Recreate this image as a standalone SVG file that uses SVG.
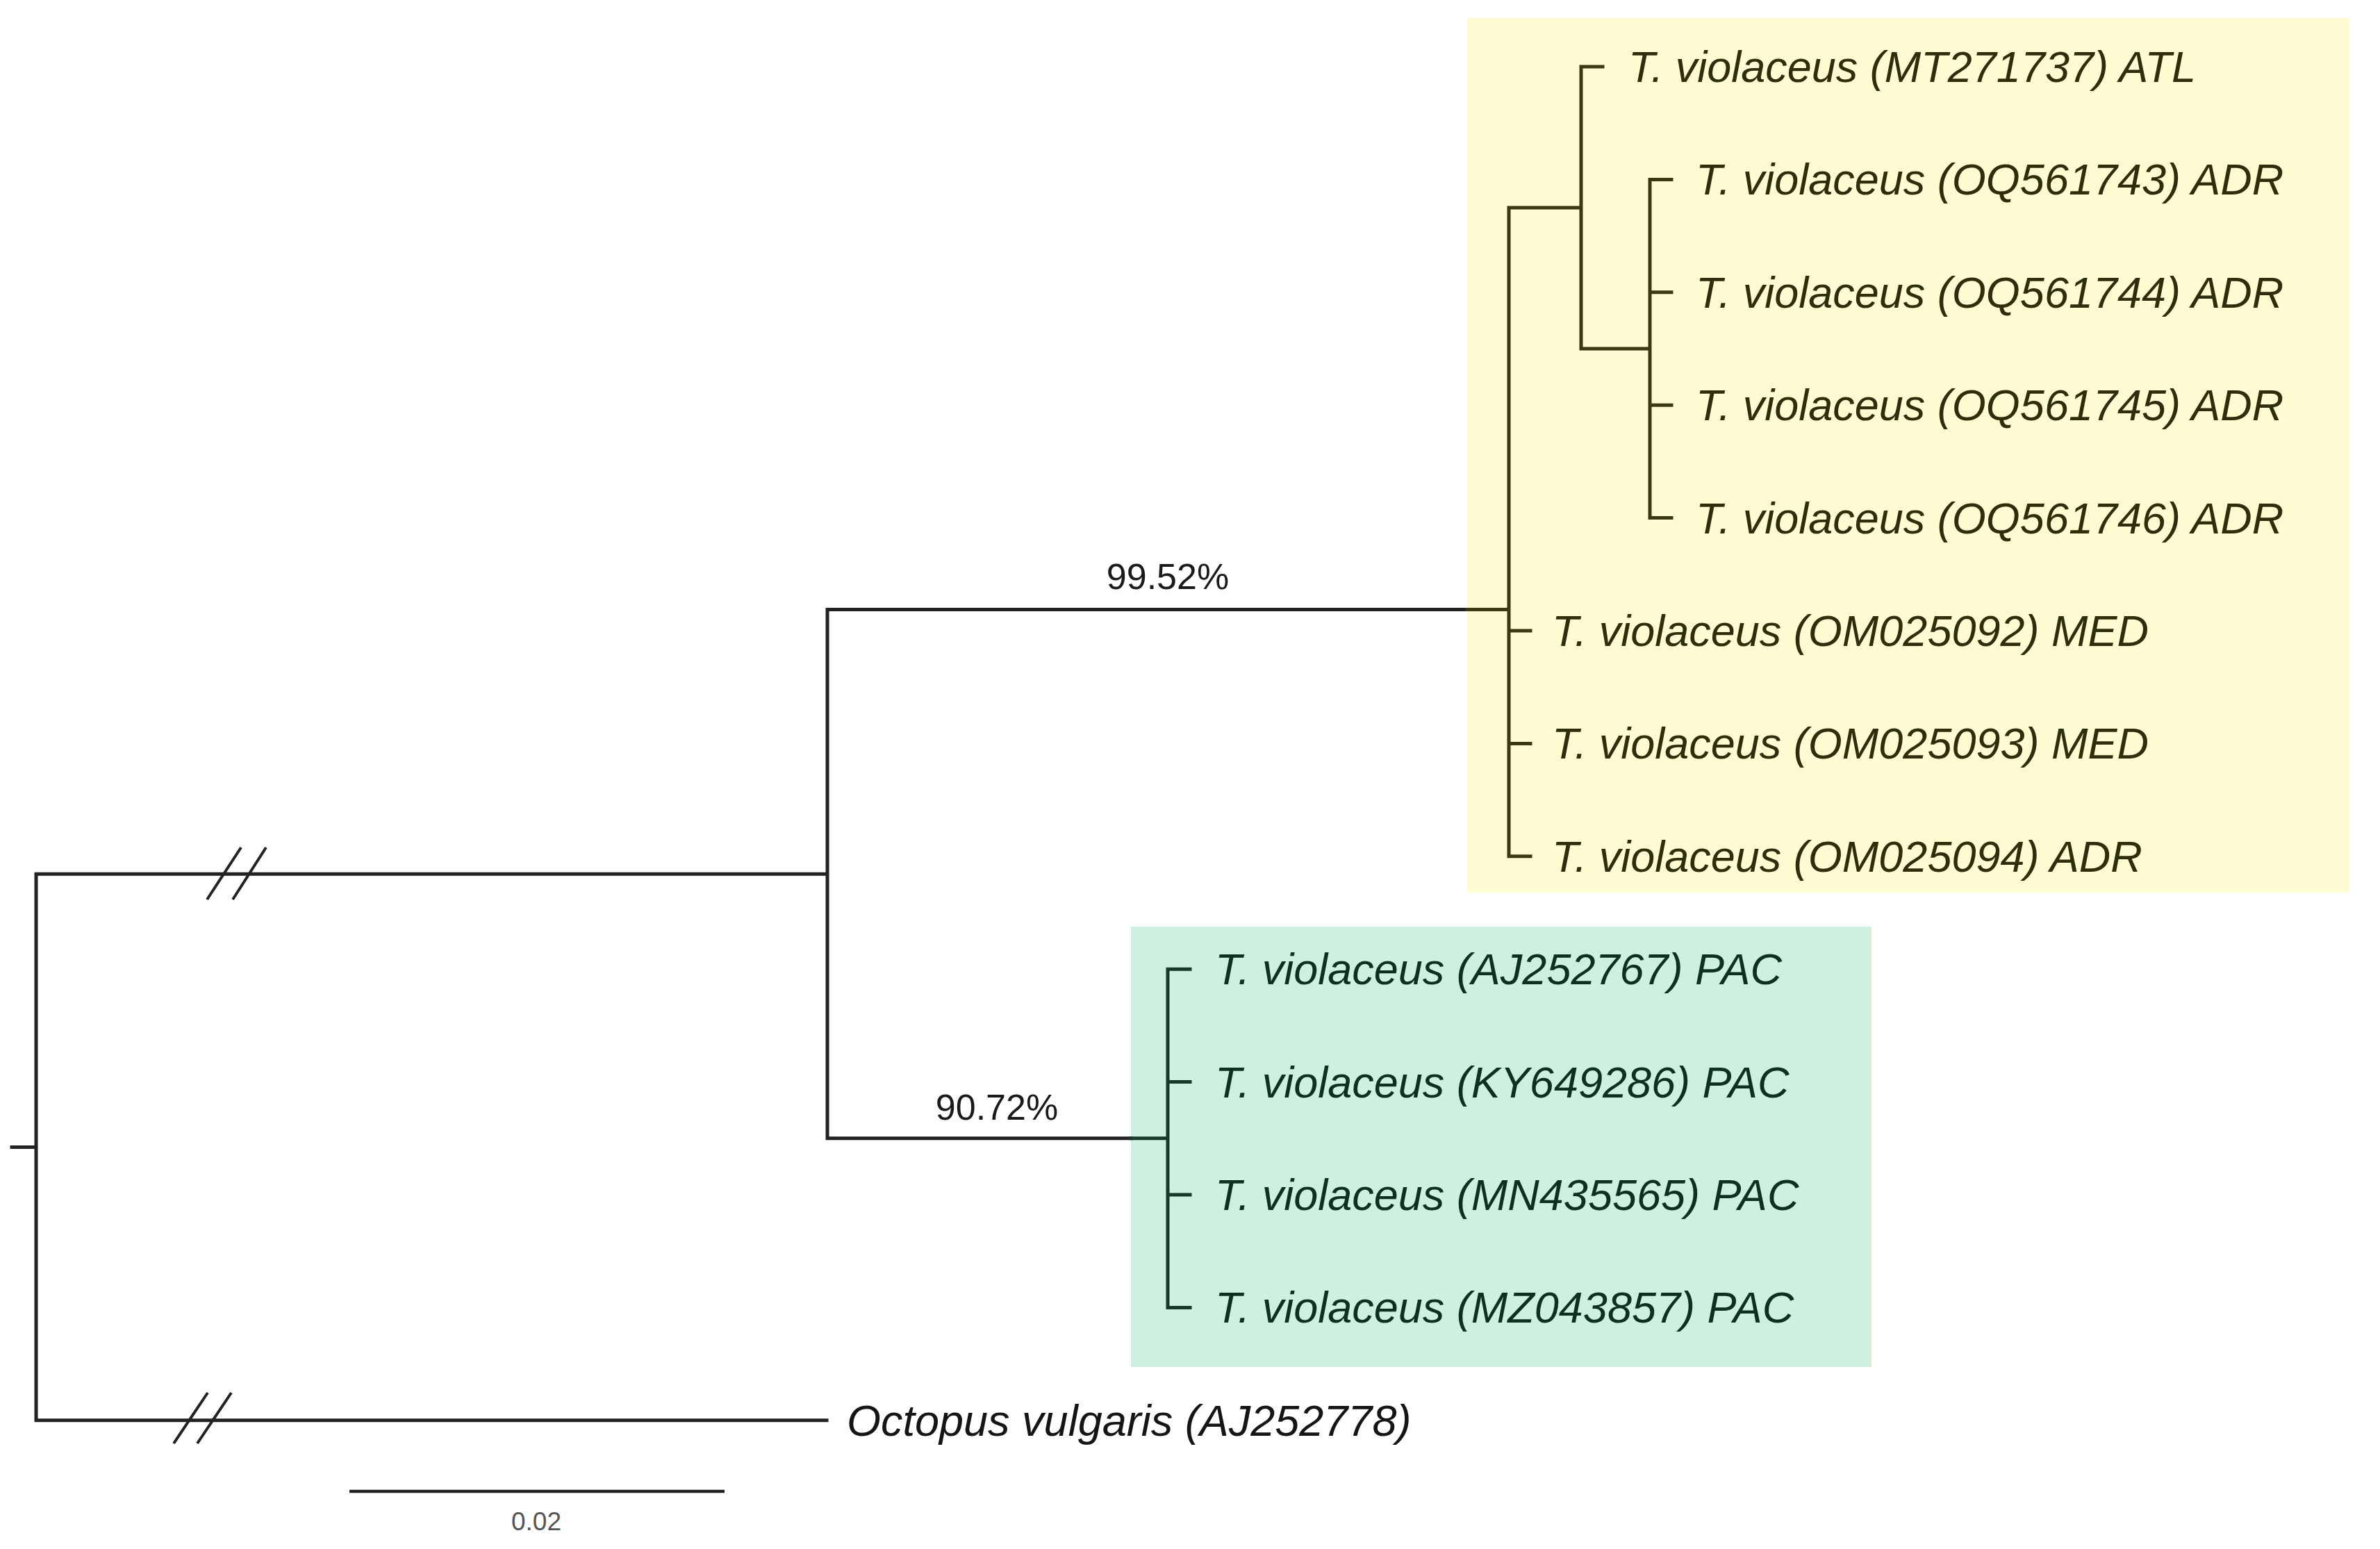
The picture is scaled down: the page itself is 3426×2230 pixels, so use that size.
<svg xmlns="http://www.w3.org/2000/svg" width="3426" height="2230" viewBox="0 0 3426 2230">
<style>
.br{fill:none;stroke:#222;stroke-width:5;stroke-linecap:square;stroke-linejoin:miter}
.by{stroke:#3a3912}
.bg{stroke:#163a27}
.sl{stroke:#222;stroke-width:4}
.lab{font-family:"Liberation Sans",Arial,sans-serif;font-style:italic;font-size:63px}
.ly{fill:#2f2e0c}
.lg{fill:#10301f}
.lk{fill:#151515}
.sup{font-family:"Liberation Sans",Arial,sans-serif;font-size:52px;fill:#1a1a1a;text-anchor:middle}
.scl{font-family:"Liberation Sans",Arial,sans-serif;font-size:37px;fill:#555;text-anchor:middle}
</style>
<rect x="0" y="0" width="3426" height="2230" fill="#ffffff"/>
<g id="boxes">
<rect id="box-atlantic-med" x="2112" y="26" width="1270" height="1259" fill="#FFFCD4"/>
<rect id="box-pacific" x="1628" y="1334" width="1066" height="634" fill="#CFF0DE"/>
</g>
<g id="connectors">
<path class="br" d="M52,1258.2 V2044.8 H1190 M17,1651.5 H52 M52,1258.2 H1191 M1191,877.5 V1638.8 M1191,877.5 H2112 M1191,1638.8 H1628"/>
<path class="br by" d="M2112,877.5 H2172 M2276,299 H2172 V1232.8 H2203 M2172,908 H2203 M2172,1070.4 H2203 M2307,96 H2276 V502 H2375 M2406,258.4 H2375 V745.6 H2406 M2375,420.8 H2406 M2375,583.2 H2406"/>
<path class="br bg" d="M1628,1638.8 H1681 M1713,1395.2 H1681 V1882.4 H1713 M1681,1557.6 H1713 M1681,1720 H1713"/>
<g id="breaks">
<line class="sl" x1="298" y1="1295" x2="347" y2="1220"/>
<line class="sl" x1="335" y1="1295" x2="383" y2="1220"/>
<line class="sl" x1="250" y1="2078" x2="299" y2="2005"/>
<line class="sl" x1="284" y1="2078" x2="333" y2="2005"/>
</g>
</g>
<g id="support">
<text class="sup" x="1681" y="848">99.52%</text>
<text class="sup" x="1435" y="1612">90.72%</text>
</g>
<g id="n-MT271737"><text class="lab ly" x="2344" y="118">T. violaceus (MT271737) ATL</text></g>
<g id="n-OQ561743"><text class="lab ly" x="2441" y="280.4">T. violaceus (OQ561743) ADR</text></g>
<g id="n-OQ561744"><text class="lab ly" x="2441" y="442.8">T. violaceus (OQ561744) ADR</text></g>
<g id="n-OQ561745"><text class="lab ly" x="2441" y="605.2">T. violaceus (OQ561745) ADR</text></g>
<g id="n-OQ561746"><text class="lab ly" x="2441" y="767.6">T. violaceus (OQ561746) ADR</text></g>
<g id="n-OM025092"><text class="lab ly" x="2234" y="930">T. violaceus (OM025092) MED</text></g>
<g id="n-OM025093"><text class="lab ly" x="2234" y="1092.4">T. violaceus (OM025093) MED</text></g>
<g id="n-OM025094"><text class="lab ly" x="2234" y="1254.8">T. violaceus (OM025094) ADR</text></g>
<g id="n-AJ252767"><text class="lab lg" x="1749" y="1417.2">T. violaceus (AJ252767) PAC</text></g>
<g id="n-KY649286"><text class="lab lg" x="1749" y="1579.6">T. violaceus (KY649286) PAC</text></g>
<g id="n-MN435565"><text class="lab lg" x="1749" y="1742">T. violaceus (MN435565) PAC</text></g>
<g id="n-MZ043857"><text class="lab lg" x="1749" y="1904.4">T. violaceus (MZ043857) PAC</text></g>
<g id="n-AJ252778"><text class="lab lk" x="1219" y="2066.8">Octopus vulgaris (AJ252778)</text></g>
<g id="scalebar">
<line x1="503" y1="2147" x2="1043" y2="2147" stroke="#222" stroke-width="4.5"/>
<text class="scl" x="772" y="2203">0.02</text>
</g>
</svg>
